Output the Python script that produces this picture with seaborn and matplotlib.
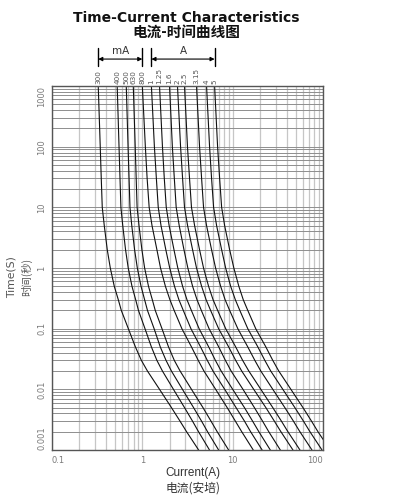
import matplotlib
matplotlib.use("Agg")
import matplotlib.pyplot as plt
from matplotlib.ticker import LogLocator, NullFormatter, FixedLocator
import seaborn as sns
import pandas as pd

# ---------------- data ----------------
times = [1000, 100, 30, 10, 5, 2, 1, 0.5, 0.3, 0.2, 0.1, 0.05, 0.03, 0.02,
         0.01, 0.005, 0.003, 0.002, 0.001]
ratings = ["300", "400", "500", "630", "800", "1", "1.25", "1.6", "2", "2.5",
           "3.15", "4", "5"]

i_300ma = [0.325, 0.342, 0.351, 0.360, 0.379, 0.409, 0.442, 0.489, 0.542, 0.585,
           0.700, 0.838, 0.976, 1.14, 1.55, 2.10, 2.61, 3.09, 4.20]
i_400ma = [0.527, 0.552, 0.566, 0.579, 0.607, 0.652, 0.698, 0.768, 0.844, 0.906,
           1.07, 1.26, 1.45, 1.67, 2.21, 2.93, 3.59, 4.19, 5.54]
i_500ma = [0.664, 0.695, 0.713, 0.730, 0.764, 0.821, 0.880, 0.967, 1.06, 1.14,
           1.35, 1.58, 1.83, 2.10, 2.78, 3.69, 4.52, 5.27, 6.99]
i_630ma = [0.794, 0.834, 0.855, 0.875, 0.919, 0.989, 1.06, 1.17, 1.29, 1.39,
           1.65, 1.95, 2.26, 2.62, 3.50, 4.69, 5.75, 6.74, 9.02]
i_800ma = [1.00, 1.08, 1.13, 1.19, 1.28, 1.45, 1.59, 1.80, 2.02, 2.25,
           2.74, 3.50, 4.16, 4.81, 6.48, 8.69, 10.7, 12.6, 16.9]
i_1a = [1.26, 1.36, 1.43, 1.50, 1.61, 1.82, 2.01, 2.27, 2.54, 2.84,
        3.45, 4.41, 5.24, 6.06, 8.16, 10.9, 13.5, 15.8, 21.2]
i_1_25a = [1.55, 1.67, 1.75, 1.84, 1.98, 2.24, 2.47, 2.79, 3.12, 3.49,
           4.25, 5.43, 6.44, 7.46, 10.0, 13.5, 16.6, 19.5, 26.1]
i_1_6a = [2.00, 2.15, 2.26, 2.37, 2.56, 2.89, 3.19, 3.60, 4.03, 4.50,
          5.48, 7.01, 8.31, 9.62, 13.0, 17.4, 21.4, 25.1, 33.7]
i_2a = [2.45, 2.65, 2.79, 2.93, 3.17, 3.60, 3.98, 4.53, 5.08, 5.70,
        6.99, 9.03, 10.8, 12.6, 17.1, 23.3, 28.9, 34.2, 46.5]
i_2_5a = [2.93, 3.16, 3.33, 3.50, 3.79, 4.30, 4.76, 5.41, 6.07, 6.82,
          8.37, 10.8, 12.9, 15.1, 20.5, 27.8, 34.6, 40.9, 55.6]
i_3_15a = [3.98, 4.30, 4.53, 4.76, 5.14, 5.84, 6.47, 7.36, 8.25, 9.26,
           11.4, 14.7, 17.6, 20.5, 27.8, 37.8, 47.0, 55.5, 75.5]
i_4a = [5.14, 5.55, 5.84, 6.15, 6.64, 7.55, 8.36, 9.50, 10.7, 12.0,
        14.7, 19.0, 22.7, 26.4, 35.9, 48.8, 60.7, 71.7, 97.5]
i_5a = [6.31, 6.81, 7.17, 7.55, 8.15, 9.26, 10.3, 11.7, 13.1, 14.7,
        18.0, 23.3, 27.8, 32.4, 44.1, 60.0, 74.5, 88.0, 120.0]

curves = [i_300ma, i_400ma, i_500ma, i_630ma, i_800ma, i_1a, i_1_25a,
          i_1_6a, i_2a, i_2_5a, i_3_15a, i_4a, i_5a]

x_ticks = [0.1, 1, 10, 100]
x_tick_labels = ["0.1", "1", "10", "100"]
y_ticks = [0.001, 0.01, 0.1, 1, 10, 100, 1000]
y_tick_labels = ["0.001", "0.01", "0.1", "1", "10", "100", "1000"]

rows = []
for name, cur in zip(ratings, curves):
    for t, i in zip(times, cur):
        rows.append({"rating": name, "current": i, "time": t})
df = pd.DataFrame(rows)

# ---------------- figure ----------------
sns.set_style("white")
plt.rcParams["font.family"] = ["DejaVu Sans", "Noto Sans CJK SC"]
CJK = ["Noto Sans CJK SC", "DejaVu Sans"]

fig = plt.figure(figsize=(3.94, 5.03), dpi=100)
ax = fig.add_axes([52 / 394, 53 / 503, 271 / 394, 364 / 503])

ax.set_xscale("log")
ax.set_yscale("log")

sns.lineplot(data=df, x="current", y="time", hue="rating", hue_order=ratings,
             palette=["#111111"] * len(ratings), estimator=None, sort=False,
             legend=False, lw=0.8, ax=ax)

ax.set_xlim(0.1, 100)
ax.set_ylim(0.001, 1000)
ax.xaxis.set_major_locator(FixedLocator(x_ticks))
ax.yaxis.set_major_locator(FixedLocator(y_ticks))
ax.xaxis.set_minor_locator(LogLocator(base=10, subs=range(2, 10), numticks=20))
ax.yaxis.set_minor_locator(LogLocator(base=10, subs=range(2, 10), numticks=20))
ax.xaxis.set_minor_formatter(NullFormatter())
ax.yaxis.set_minor_formatter(NullFormatter())

ax.xaxis.grid(True, which="both", color="#c6c6c6", lw=0.9)
ax.yaxis.grid(True, which="both", color="#8e8e8e", lw=0.7)
ax.set_axisbelow(True)

ax.set_xticklabels(x_tick_labels, fontsize=6, color="#7a7a7a")
ax.set_yticklabels(y_tick_labels, fontsize=6, color="#7a7a7a", rotation=90,
                   va="center")
xl = ax.get_xticklabels()
xl[0].set_ha("left")
xl[-1].set_ha("right")
yl = ax.get_yticklabels()
yl[0].set_va("bottom")
yl[-1].set_va("top")
ax.tick_params(which="both", length=0, pad=4)
ax.set_xlabel("")
ax.set_ylabel("")

for s in ax.spines.values():
    s.set_color("#555555")
    s.set_linewidth(1.0)

trans = ax.get_xaxis_transform()
# rating labels on top of curves
for name, cur in zip(ratings, curves):
    ax.text(cur[0], 1.006, name, transform=trans, rotation=90, ha="center",
            va="bottom", fontsize=5.2, color="#555555", clip_on=False)

# mA / A brackets
def bracket(x0, x1, label):
    ax.annotate("", xy=(x1, 1.074), xytext=(x0, 1.074), xycoords=trans,
                textcoords=trans,
                arrowprops=dict(arrowstyle="<|-|>", color="black", lw=0.8,
                                mutation_scale=6, shrinkA=0, shrinkB=0))
    for xx in (x0, x1):
        ax.plot([xx, xx], [1.056, 1.104], transform=trans, color="black",
                lw=1.0, clip_on=False)
    ax.text((x0 * x1) ** 0.5, 1.082, label, transform=trans, ha="center",
            va="bottom", fontsize=7.5, color="#333333")

bracket(i_300ma[0], i_800ma[0], "mA")
bracket(i_1a[0], i_5a[0], "A")

# titles
fig.text(186 / 394, 1 - 18 / 503, "Time-Current Characteristics", ha="center",
         va="center", fontsize=10, weight="bold", color="#111111")
fig.text(186 / 394, 1 - 32 / 503, "电流-时间曲线图", ha="center", va="center",
         fontsize=10.5, weight="bold", family=CJK, color="#111111")

# axis labels
fig.text(12 / 394, 1 - 277 / 503, "Time(S)", rotation=90, ha="center",
         va="center", fontsize=7.8, color="#555555")
fig.text(27 / 394, 1 - 277 / 503, "时间(秒)", rotation=90, ha="center",
         va="center", fontsize=7.5, color="#555555", family=CJK)
fig.text(193 / 394, 1 - 473 / 503, "Current(A)", ha="center", va="center",
         fontsize=8.5, color="#333333", family=["Liberation Sans", "DejaVu Sans"])
fig.text(193 / 394, 1 - 488 / 503, "电流(安培)", ha="center", va="center",
         fontsize=8.5, color="#333333", family=CJK)

fig.savefig("out.png", dpi=100)
